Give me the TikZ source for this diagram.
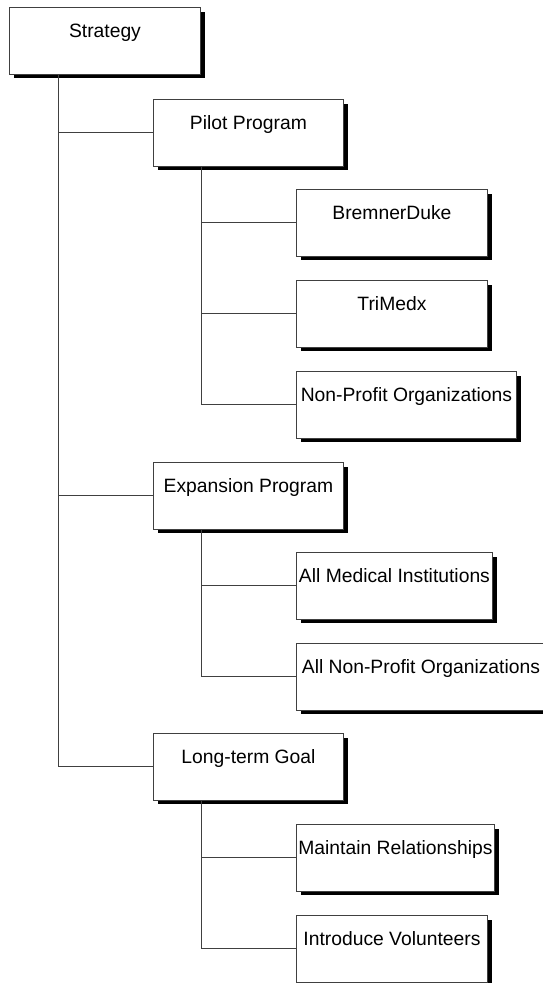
\documentclass[tikz,border=0pt]{standalone}
\usepackage{fontspec}
\setmainfont{Liberation Sans}
\usetikzlibrary{shadows}
\tikzset{
  orgbox/.style={draw=black!75, line width=0.9pt, fill=white, rectangle,
    anchor=north west, inner sep=0pt, text height=30pt, text depth=36.5pt,
    align=center, font=\fontsize{19.3}{23}\selectfont,
    general shadow={fill=black, shadow xshift=4.5pt, shadow yshift=-4.5pt}},
  link/.style={draw=black!75, line width=0.9pt}
}
\begin{document}
\begin{tikzpicture}[x=1pt,y=-1pt]
\useasboundingbox (0,0) rectangle (543,983);
% connectors first
\coordinate (c0) at (58,74);
\coordinate (c1) at (201,165);
\coordinate (c2) at (201,528);
\coordinate (c3) at (201,800);
\node[orgbox, minimum width=191pt] (strat) at (9,7) {Strategy};
\node[orgbox, minimum width=190pt] (pilot) at (153,99) {Pilot Program};
\node[orgbox, minimum width=191pt] (bd) at (296,189) {BremnerDuke};
\node[orgbox, minimum width=191pt] (tri) at (296,280) {TriMedx};
\node[orgbox, minimum width=220pt] (npo) at (296,371) {Non-Profit Organizations};
\node[orgbox, minimum width=190pt] (exp) at (153,462) {Expansion Program};
\node[orgbox, minimum width=196pt] (amed) at (296,552) {All Medical Institutions};
\node[orgbox, minimum width=249pt] (anpo) at (296,643) {All Non-Profit Organizations};
\node[orgbox, minimum width=190pt] (ltg) at (153,733) {Long-term Goal};
\node[orgbox, minimum width=198pt] (mr) at (296,824) {Maintain Relationships};
\node[orgbox, minimum width=191pt] (iv) at (296,915) {Introduce Volunteers};
% links
\draw[link] ([xshift=49pt]strat.south west) |- (pilot.west);
\draw[link] ([xshift=49pt]strat.south west) |- (exp.west);
\draw[link] ([xshift=49pt]strat.south west) |- (ltg.west);
\draw[link] ([xshift=48pt]pilot.south west) |- (bd.west);
\draw[link] ([xshift=48pt]pilot.south west) |- (tri.west);
\draw[link] ([xshift=48pt]pilot.south west) |- (npo.west);
\draw[link] ([xshift=48pt]exp.south west) |- (amed.west);
\draw[link] ([xshift=48pt]exp.south west) |- (anpo.west);
\draw[link] ([xshift=48pt]ltg.south west) |- (mr.west);
\draw[link] ([xshift=48pt]ltg.south west) |- (iv.west);
\end{tikzpicture}
\end{document}
